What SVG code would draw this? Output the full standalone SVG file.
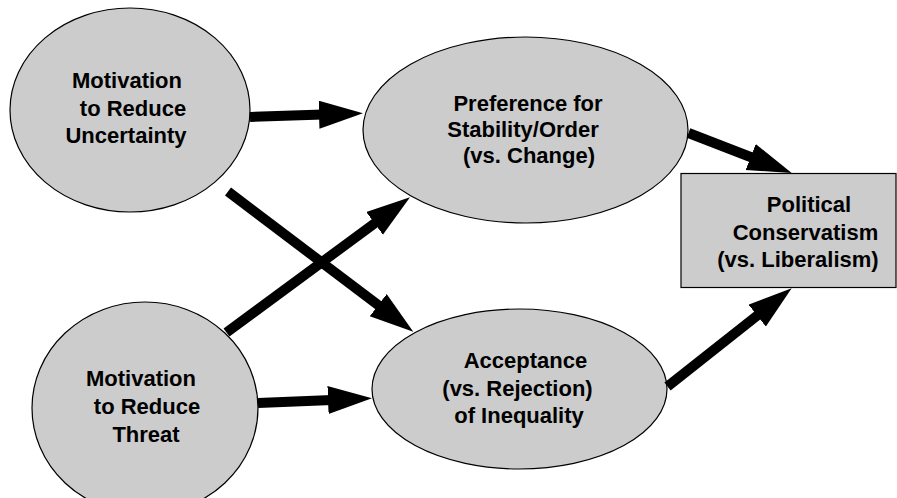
<svg xmlns="http://www.w3.org/2000/svg" width="897" height="498" viewBox="0 0 897 498">
<style>
.node{fill:#cccccc;stroke:#000;stroke-width:1.2}
.lbl{font-family:"Liberation Sans",Arial,Helvetica,sans-serif;font-weight:bold;font-size:22px;fill:#000;text-anchor:middle}
.conn{stroke:#000;stroke-width:10;fill:none;stroke-linecap:butt}
</style>
<defs>
<marker id="head" markerUnits="userSpaceOnUse" markerWidth="46" markerHeight="30" refX="4" refY="14" orient="auto" viewBox="0 0 46 30">
<path d="M0,0 L44,14 L0,28 z" fill="#000"/>
</marker>
</defs>
<rect width="897" height="498" fill="#fff"/>
<g id="node-uncertainty">
<ellipse class="node" cx="130" cy="110" rx="120" ry="102"/>
<text class="lbl"><tspan x="127" y="88">Motivation</tspan><tspan x="133" y="116">to Reduce</tspan><tspan x="126" y="143">Uncertainty</tspan></text>
</g>
<g id="node-threat">
<ellipse class="node" cx="145" cy="408" rx="113" ry="106"/>
<text class="lbl"><tspan x="141" y="386">Motivation</tspan><tspan x="147" y="414">to Reduce</tspan><tspan x="146" y="442">Threat</tspan></text>
</g>
<g id="node-preference">
<ellipse class="node" cx="525.5" cy="130" rx="162.5" ry="93"/>
<text class="lbl"><tspan x="528" y="111">Preference for</tspan><tspan x="523" y="137">Stability/Order</tspan><tspan x="529" y="163">(vs. Change)</tspan></text>
</g>
<g id="node-acceptance">
<ellipse class="node" cx="519.5" cy="389" rx="147.5" ry="80"/>
<text class="lbl"><tspan x="525.5" y="368">Acceptance</tspan><tspan x="517.5" y="396">(vs. Rejection)</tspan><tspan x="519" y="423">of Inequality</tspan></text>
</g>
<g id="node-conservatism">
<rect class="node" x="681" y="173.5" width="215" height="114"/>
<text class="lbl"><tspan x="809" y="212">Political</tspan><tspan x="805.5" y="240">Conservatism</tspan><tspan x="798" y="267">(vs. Liberalism)</tspan></text>
</g>
<g id="connectors">
<line class="conn" x1="250" y1="117" x2="323" y2="114.6" marker-end="url(#head)"/>
<line class="conn" x1="228" y1="191.5" x2="381.4" y2="307.6" marker-end="url(#head)"/>
<line class="conn" x1="226.5" y1="332.5" x2="377.8" y2="221" marker-end="url(#head)"/>
<line class="conn" x1="258" y1="403" x2="332" y2="399.9" marker-end="url(#head)"/>
<line class="conn" x1="688.5" y1="133" x2="754.4" y2="158.5" marker-end="url(#head)"/>
<line class="conn" x1="667.5" y1="386.5" x2="760.3" y2="313.1" marker-end="url(#head)"/>
</g>
</svg>
